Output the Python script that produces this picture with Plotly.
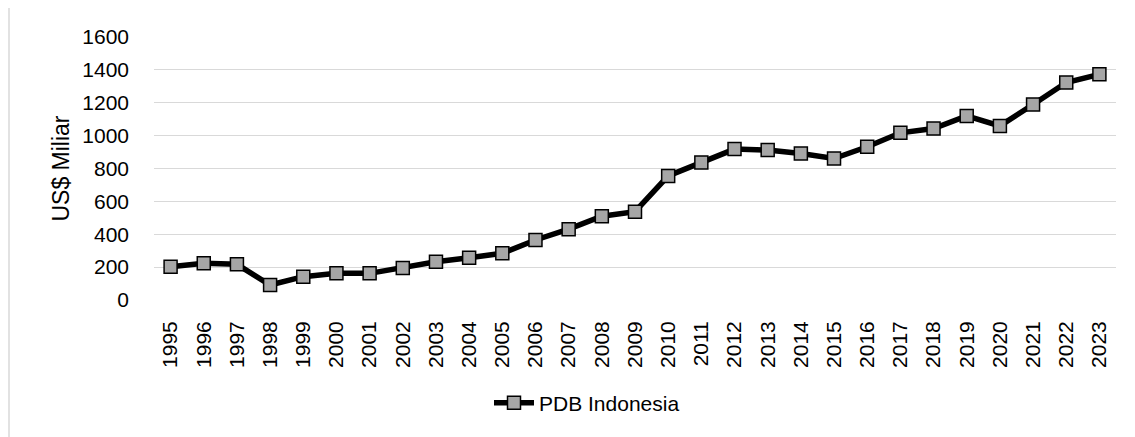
import plotly.graph_objects as go

years = [str(y) for y in range(1995, 2024)]
pdb = [202, 223, 217, 91, 142, 162, 162, 195, 233, 257, 284, 365, 431, 510, 537,
       755, 837, 918, 912, 891, 861, 932, 1017, 1043, 1120, 1059, 1189, 1323, 1373]
y_ticks = [0, 200, 400, 600, 800, 1000, 1200, 1400, 1600]
series_name = "PDB Indonesia"
y_title = "US$ Miliar"

# page body has an 8px margin; build the figure in its own coordinates
OFF = 8
W, H = 1135 - OFF, 437 - OFF
L, T = 154 - OFF, 37 - OFF
R = W - (1116 - OFF)
B = H - (300 - OFF)
pw, ph = W - L - R, H - T - B

FONT = "Liberation Sans"

fig = go.Figure()
fig.add_trace(go.Scatter(
    x=years, y=pdb, name=series_name, mode="lines+markers",
    line=dict(color="#000000", width=5.5),
    marker=dict(symbol="square", size=13, color="#A6A6A6",
                line=dict(color="#000000", width=1.5)),
))

def px_x(x):
    return (x - OFF - L) / pw

def px_y(y):
    return (H - B - (y - OFF)) / ph

border = dict(color="#D9D9D9", width=1.5)
fig.add_shape(type="line", xref="paper", yref="paper",
              x0=px_x(9), x1=px_x(9), y0=px_y(7), y1=px_y(445), line=border)
fig.add_shape(type="line", xref="paper", yref="paper",
              x0=px_x(9), x1=px_x(1145), y0=px_y(7), y1=px_y(7), line=border)

fig.update_layout(
    width=W, height=H,
    margin=dict(l=L, r=R, t=T, b=B, autoexpand=False),
    paper_bgcolor="white", plot_bgcolor="white",
    font=dict(family=FONT, size=21, color="#000000"),
    showlegend=True,
    legend=dict(orientation="h", xref="container", yref="container",
                x=(587 - OFF) / W, xanchor="center",
                y=1 - (403 - OFF) / H, yanchor="middle",
                font=dict(family=FONT, size=21), itemwidth=40),
    xaxis=dict(type="category", range=[-0.5, len(years) - 0.5],
               tickangle=-90, showgrid=False, showline=False,
               ticks="", ticklabelstandoff=16, zeroline=False,
               tickfont=dict(family=FONT, size=21)),
    yaxis=dict(range=[0, 1600], tickvals=y_ticks, showgrid=True,
               gridcolor="#D9D9D9", gridwidth=1.3, zeroline=False,
               showline=False, ticks="", ticklabelstandoff=24,
               tickfont=dict(family=FONT, size=21),
               title=dict(text=y_title, font=dict(family=FONT, size=23),
                          standoff=6)),
)

fig.write_html("out.html")
